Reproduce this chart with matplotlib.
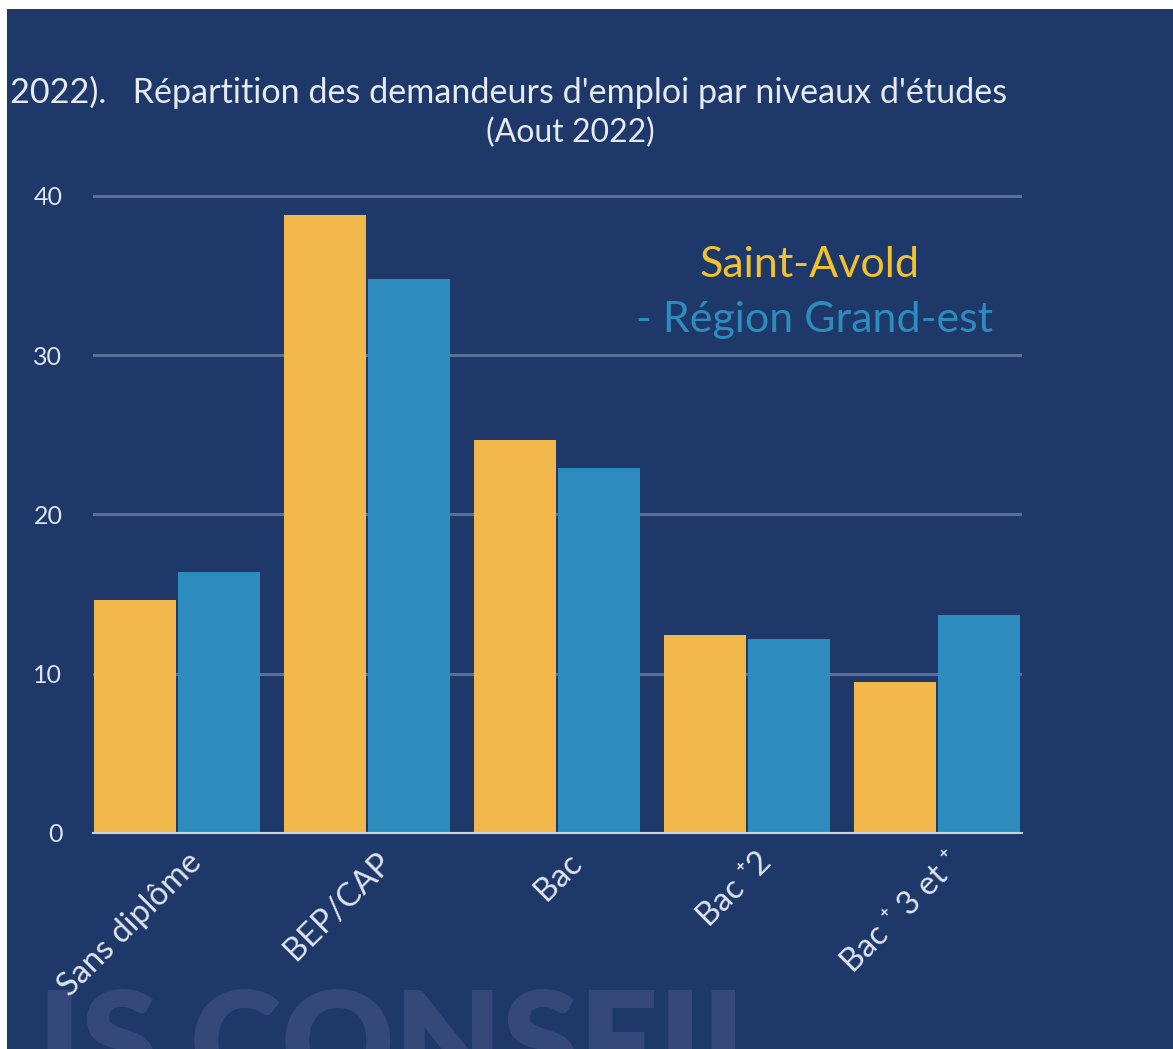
import matplotlib.pyplot as plt
import numpy as np
from matplotlib.patches import Rectangle
from matplotlib.transforms import ScaledTranslation

plt.rcParams['font.family'] = ['Lato', 'DejaVu Sans']

# Données (en %)
niveaux = ["Sans diplôme", "BEP/CAP", "Bac", "Bac ⁺2", "Bac ⁺ 3 et ⁺"]
saint_avold = [14.6, 38.8, 24.7, 12.4, 9.5]
region_ge = [16.4, 34.8, 22.9, 12.2, 13.7]

fond = "#1e3869"
jaune = "#f2b84b"
bleu = "#2e8bbd"

fig = plt.figure(figsize=(11.73, 10.49), dpi=100)
fig.patch.set_facecolor("white")
fig.patches.append(Rectangle((7 / 1173, 0), 1, (1049 - 9) / 1049,
                             transform=fig.transFigure, facecolor=fond,
                             edgecolor="none", zorder=-10))

ax = fig.add_axes([93 / 1173, 216 / 1049, 929 / 1173, 642 / 1049])
ax.set_facecolor("none")

x = np.arange(len(niveaux))
largeur = 0.43
ax.bar(x - 0.222, saint_avold, largeur, color=jaune, zorder=3)
ax.bar(x + 0.222, region_ge, largeur, color=bleu, zorder=3)

ax.set_xlim(-0.442, 4.447)
ax.set_ylim(0, 40.3)
ax.set_yticks([0, 10, 20, 30, 40])
ax.yaxis.grid(True, color="#5a6e96", linewidth=2.2, zorder=0)
ax.set_axisbelow(True)
for s in ["top", "right", "left"]:
    ax.spines[s].set_visible(False)
ax.spines["bottom"].set_color("#c9d1e2")
ax.spines["bottom"].set_linewidth(1.5)
ax.spines["bottom"].set_zorder(4)

ax.tick_params(axis="both", length=0, colors="#dfe4ee", labelsize=18)
ax.tick_params(axis="y", pad=22)
ax.set_xticks(x)
ax.set_xticklabels(niveaux, rotation=45, ha="right", va="center",
                   rotation_mode="anchor", fontsize=23.5)
decal = ScaledTranslation(0.2, -0.2, fig.dpi_scale_trans)
for lab in ax.get_xticklabels():
    lab.set_transform(lab.get_transform() + decal)

# Titre
fig.text(10 / 1173, 1 - 92 / 1049,
         "2022).   Répartition des demandeurs d'emploi par niveaux d'études",
         color="#e6eaf2", fontsize=24.6, ha="left", va="center")
fig.text(570 / 1173, 1 - 133 / 1049, "(Aout 2022)",
         color="#e6eaf2", fontsize=23, ha="center", va="center")

# Légende en texte
fig.text(810 / 1173, 1 - 265 / 1049, "Saint-Avold", color="#f2c12e",
         fontsize=31, ha="center", va="center")
fig.text(815 / 1173, 1 - 320 / 1049, "- Région Grand-est", color=bleu,
         fontsize=31, ha="center", va="center")

# Filigrane (coupé par le bas comme sur l'original)
fig.text(38 / 1173, 1 - 1050 / 1049, "IS CONSEIL", color="#34497a",
         fontsize=100, fontweight="heavy", ha="left", va="center", zorder=-5)

plt.savefig("out.png", dpi=100)
